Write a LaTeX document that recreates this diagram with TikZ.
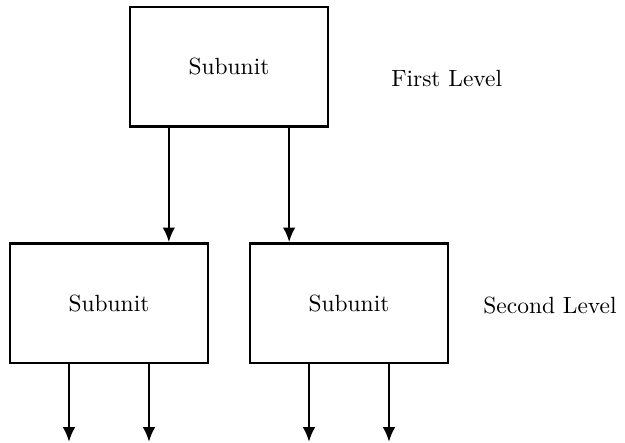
\documentclass[tikz,border=0pt]{standalone}
\usetikzlibrary{arrows.meta}

\tikzset{
    unitbox/.style={draw, line width=1pt, minimum width=2.97cm, minimum height=1.79cm, inner sep=0pt},
    flow/.style={-{Latex[length=2.2mm, width=1.9mm]}, line width=1pt}
}

\begin{document}
\begin{tikzpicture}
    \useasboundingbox (0, 0) rectangle (9.375, -6.63);

    % First level
    \node[unitbox] (top) at (3.435, -1.0) {Subunit};
    \node (lvl1) at (6.70, -1.18) {First Level};

    % Second level
    \node[unitbox] (left) at (1.635, -4.545) {Subunit};
    \node[unitbox] (right) at (5.235, -4.545) {Subunit};
    \node (lvl2) at (8.25, -4.575) {Second Level};

    % Links between the levels
    \draw[flow] ([xshift=0.6cm]top.south west) -- ([xshift=0.6cm]top.south west |- left.north);
    \draw[flow] ([xshift=-0.6cm]top.south east) -- ([xshift=-0.6cm]top.south east |- right.north);

    % Outputs of the second level
    \foreach \u in {left, right} {
        \coordinate (\u-outa) at ([xshift=-0.6cm, yshift=-1.17cm]\u.south);
        \coordinate (\u-outb) at ([xshift=0.6cm, yshift=-1.17cm]\u.south);
        \draw[flow] ([xshift=-0.6cm]\u.south) -- (\u-outa);
        \draw[flow] ([xshift=0.6cm]\u.south) -- (\u-outb);
    }

\end{tikzpicture}
\end{document}
